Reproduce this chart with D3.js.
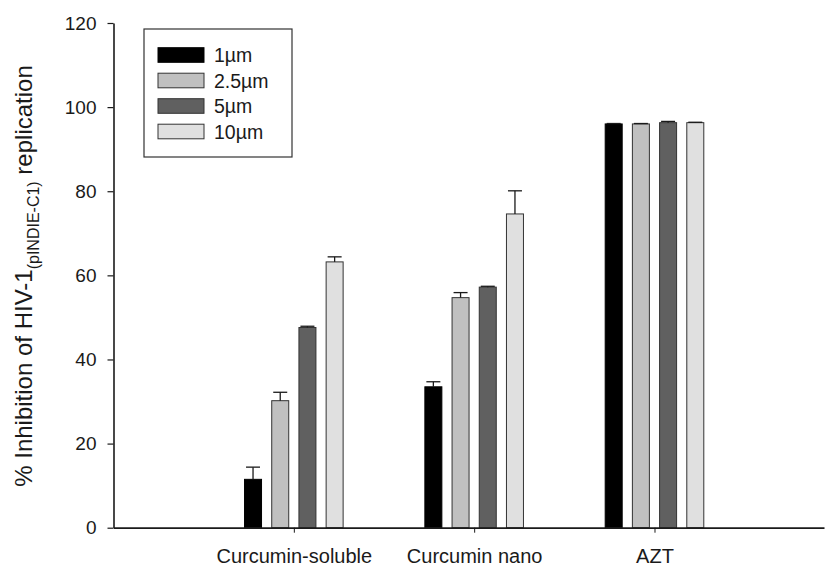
<!DOCTYPE html>
<html>
<head>
<meta charset="utf-8">
<script src="https://cdn.jsdelivr.net/npm/d3@7"></script>
<style>
  html, body { margin: 0; padding: 0; background: #fff; }
  svg { display: block; font-family: Arial, "Liberation Sans", Helvetica, sans-serif; }
</style>
</head>
<body>
<svg id="chart" width="825" height="568"></svg>
<script>
// Treatment groups along the x axis
const categories = ["Curcumin-soluble", "Curcumin nano", "AZT"];
// Concentrations (one bar per concentration in each group)
const series = ["1µm", "2.5µm", "5µm", "10µm"];
const seriesColors = ["#000000", "#c0c0c0", "#606060", "#e0e0e0"];
// Mean % inhibition, indexed [category][series]
const values = [
  [11.5, 30.2, 47.6, 63.2],
  [33.5, 54.7, 57.2, 74.6],
  [96.0, 96.0, 96.3, 96.3]
];
// Upper error (SD), indexed [category][series]
const errors = [
  [2.9, 2.0, 0.3, 1.2],
  [1.2, 1.2, 0.2, 5.5],
  [0.1, 0.1, 0.3, 0.1]
];
const yTicks = [0, 20, 40, 60, 80, 100, 120];

const svg = d3.select("#chart");
const ink = "#1a1a1a";

// Scales
const y = d3.scaleLinear().domain([0, 120]).range([527.7, 23]);
const x = d3.scaleLinear().domain([0, 3.94]).range([113.5, 824]);
const inner = d3.scaleBand().domain(series)
  .range([-54.4, 54.4]).paddingInner(0.375).paddingOuter(0.1875);
const color = d3.scaleOrdinal().domain(series).range(seriesColors);

// Bars
const rows = [];
categories.forEach((c, ci) => series.forEach((s, si) => {
  rows.push({ c, ci, s, v: values[ci][si], e: errors[ci][si] });
}));

const g = svg.append("g");
g.selectAll("rect.bar").data(rows).join("rect")
  .attr("class", "bar")
  .attr("x", d => x(d.ci + 1) + inner(d.s))
  .attr("width", inner.bandwidth())
  .attr("y", d => y(d.v))
  .attr("height", d => y(0) - y(d.v))
  .attr("fill", d => color(d.s))
  .attr("stroke", d => d.s === series[0] ? "#000" : "#333")
  .attr("stroke-width", 1);

// Upper error bars with caps
const capW = 14;
const eb = g.selectAll("g.err").data(rows).join("g").attr("class", "err")
  .attr("stroke", ink).attr("stroke-width", 1.3);
eb.append("line")
  .attr("x1", d => x(d.ci + 1) + inner(d.s) + inner.bandwidth() / 2)
  .attr("x2", d => x(d.ci + 1) + inner(d.s) + inner.bandwidth() / 2)
  .attr("y1", d => y(d.v)).attr("y2", d => y(d.v + d.e));
eb.append("line")
  .attr("x1", d => x(d.ci + 1) + inner(d.s) + inner.bandwidth() / 2 - capW / 2)
  .attr("x2", d => x(d.ci + 1) + inner(d.s) + inner.bandwidth() / 2 + capW / 2)
  .attr("y1", d => y(d.v + d.e)).attr("y2", d => y(d.v + d.e));

// Y axis
const yAxis = svg.append("g")
  .attr("transform", `translate(${x(0)},0)`)
  .call(d3.axisLeft(y).tickValues(yTicks).tickSize(6).tickPadding(11).tickSizeOuter(0));
yAxis.select(".domain").attr("stroke", ink).attr("stroke-width", 1.6);
yAxis.selectAll(".tick line").attr("stroke", ink).attr("stroke-width", 1.2);
yAxis.selectAll(".tick text").attr("fill", ink).attr("font-size", 19)
  .attr("font-family", "Arial, 'Liberation Sans', sans-serif");

// X axis
const xAxis = svg.append("g")
  .attr("transform", `translate(0,${y(0)})`)
  .call(d3.axisBottom(x).tickValues([1, 2, 3])
    .tickFormat(i => categories[i - 1]).tickSize(5).tickPadding(16).tickSizeOuter(0));
xAxis.select(".domain").attr("stroke", ink).attr("stroke-width", 1.8);
xAxis.selectAll(".tick line").attr("stroke", ink).attr("stroke-width", 1);
xAxis.selectAll(".tick text").attr("fill", ink).attr("font-size", 20)
  .attr("font-family", "Arial, 'Liberation Sans', sans-serif");

// Y axis title with subscript
const yTitle = svg.append("text")
  .attr("transform", "translate(32,276) rotate(-90)")
  .attr("text-anchor", "middle")
  .attr("fill", ink)
  .attr("font-size", 24);
yTitle.append("tspan").text("% Inhibition of HIV-1");
yTitle.append("tspan").attr("font-size", 16).attr("dy", 7).text("(pINDIE-C1)");
yTitle.append("tspan").attr("dy", -7).text(" replication");

// Legend
const legend = svg.append("g");
legend.append("rect")
  .attr("x", 144).attr("y", 29).attr("width", 148).attr("height", 128)
  .attr("fill", "#fff").attr("stroke", "#333").attr("stroke-width", 1.2);
const li = legend.selectAll("g.item").data(series).join("g").attr("class", "item")
  .attr("transform", (d, i) => `translate(158,${47.7 + i * 25.5})`);
li.append("rect")
  .attr("width", 46).attr("height", 14.6)
  .attr("fill", d => color(d))
  .attr("stroke", d => d === series[0] ? "#000" : "#333").attr("stroke-width", 1);
li.append("text")
  .attr("x", 56).attr("y", 14.6)
  .attr("fill", ink).attr("font-size", 19.5)
  .text(d => d);
</script>
</body>
</html>
